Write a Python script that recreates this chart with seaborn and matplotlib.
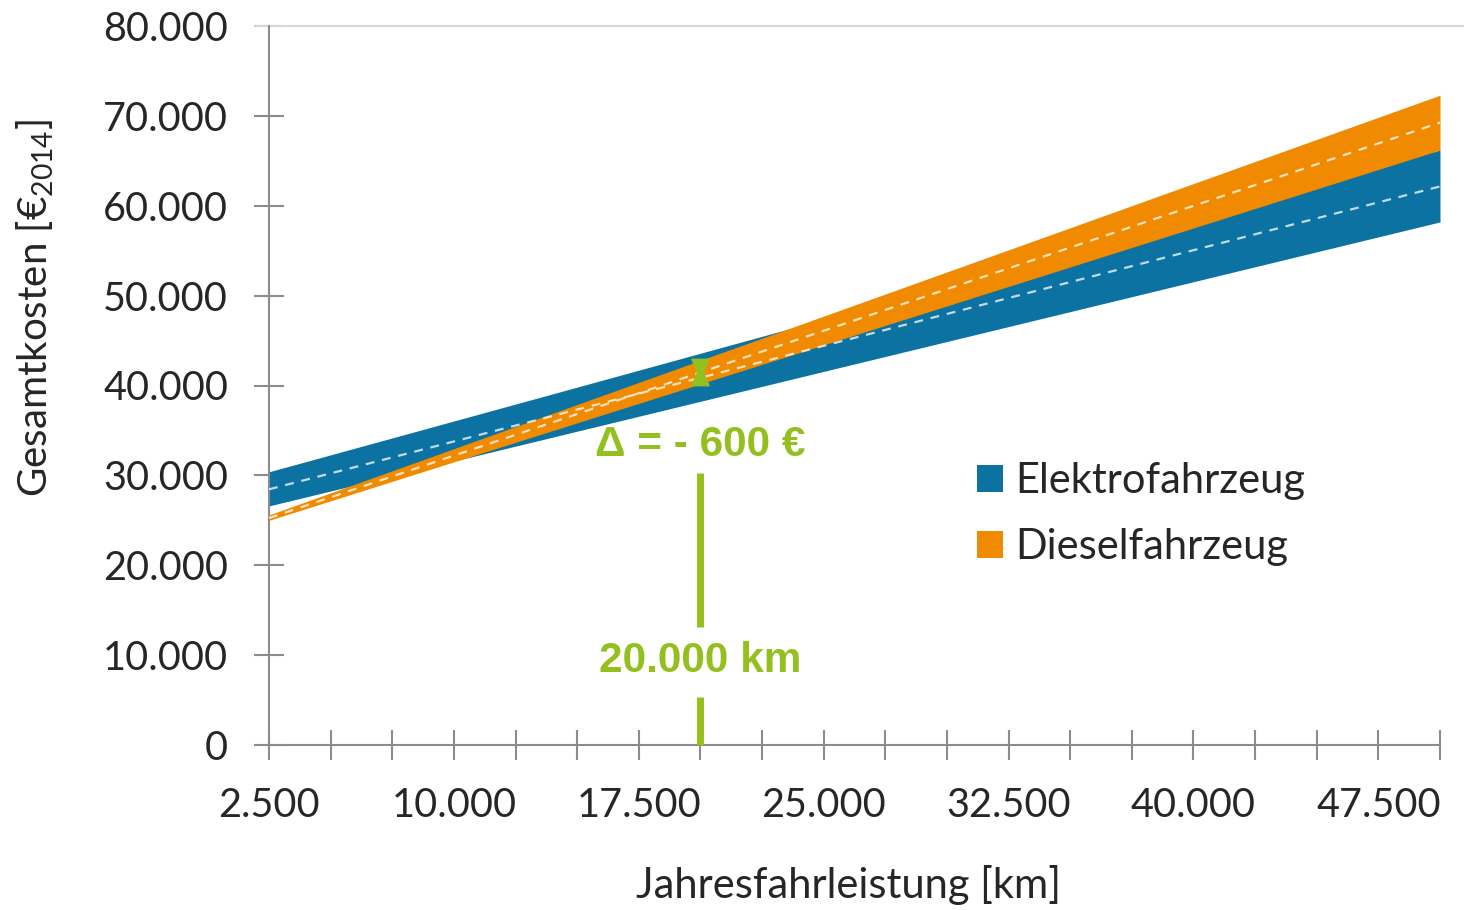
import numpy as np
import pandas as pd
import matplotlib
matplotlib.use("Agg")
import matplotlib.pyplot as plt
import seaborn as sns
from matplotlib.patches import Patch
from matplotlib.path import Path
from matplotlib.ticker import FixedLocator, FuncFormatter

# Annual mileage (km) at the ends of the range
km = [2500, 50000]

# Total cost bands (EUR 2014): lower bound, central estimate, upper bound
elektro_low = [26600, 58200]
elektro_mid = [28450, 62150]
elektro_high = [30400, 66200]

diesel_low = [25000, 66200]
diesel_mid = [25250, 69250]
diesel_high = [25600, 72300]

series_names = ["Elektrofahrzeug", "Dieselfahrzeug"]
x_tick_values = list(range(2500, 50001, 2500))
x_tick_labels = [2500, 10000, 17500, 25000, 32500, 40000, 47500]
y_tick_values = list(range(0, 80001, 10000))
marker_km = 20000
marker_label = "20.000 km"

BLUE = "#0B72A2"
ORANGE = "#F08A00"
GREEN = "#93C01F"
AXIS_GREY = "#8C8C8C"
TEXT = "#262626"

sns.set_theme(style="white")
plt.rcParams["font.family"] = ["Lato", "DejaVu Sans"]
plt.rcParams["mathtext.default"] = "regular"

W, H = 1464, 910
fig = plt.figure(figsize=(W / 100, H / 100), dpi=100)
ax = fig.add_axes([269 / W, 1 - 745 / H, (1440 - 269) / W, (745 - 26) / H])

df = pd.DataFrame({
    "km": km * 2,
    "kosten": elektro_mid + diesel_mid,
    "fahrzeug": [series_names[0]] * 2 + [series_names[1]] * 2,
})

# Cost bands
ax.fill_between(km, elektro_low, elektro_high, color=BLUE, lw=0, zorder=2)
ax.fill_between(km, diesel_low, diesel_high, color=ORANGE, lw=0, zorder=3)

# Central estimates as dashed lines
sns.lineplot(data=df, x="km", y="kosten", units="fahrzeug", estimator=None,
             color="white", alpha=0.75, lw=1.6, dashes=False, ax=ax,
             zorder=4, legend=False)
for line in ax.lines:
    line.set_linestyle((0, (4, 3.5)))
ax.set_xlabel("")
ax.set_ylabel("")

# Difference at the marked mileage
e_at = np.interp(marker_km, km, elektro_mid)
d_at = np.interp(marker_km, km, diesel_mid)
delta = round(e_at - d_at, -2)
delta_label = "Δ = - {:.0f} €".format(abs(delta)) if delta < 0 else "Δ = {:.0f} €".format(delta)

bowtie = Path([(-0.65, 1), (0.65, 1), (0.22, 0), (0.65, -1), (-0.65, -1), (-0.22, 0), (-0.65, 1)],
              [Path.MOVETO, Path.LINETO, Path.LINETO, Path.LINETO, Path.LINETO, Path.LINETO, Path.CLOSEPOLY])
ax.plot([marker_km], [d_at], marker=bowtie, ms=19, color=GREEN, mec=GREEN, zorder=6, ls="none")

ax.plot([marker_km, marker_km], [30300, 13100], color=GREEN, lw=5, solid_capstyle="butt", zorder=5)
ax.plot([marker_km, marker_km], [5300, 0], color=GREEN, lw=5, solid_capstyle="butt", zorder=5, clip_on=False)
green_font = dict(family=["Liberation Sans", "DejaVu Sans"], weight="bold", color=GREEN, fontsize=30.5,
                  ha="center", va="center")
ax.text(marker_km, 33400, delta_label, zorder=7, **green_font)
ax.text(marker_km, 9300, marker_label, zorder=7, **green_font)

# Axes
ax.set_xlim(km[0], km[-1])
ax.set_ylim(0, 80000)
ax.xaxis.set_major_locator(FixedLocator(x_tick_values))
ax.yaxis.set_major_locator(FixedLocator(y_tick_values))
ax.xaxis.set_major_formatter(FuncFormatter(
    lambda v, p: f"{v:,.0f}".replace(",", ".") if int(round(v)) in x_tick_labels else ""))
ax.yaxis.set_major_formatter(FuncFormatter(lambda v, p: f"{v:,.0f}".replace(",", ".")))

for side in ["top", "right"]:
    ax.spines[side].set_visible(False)
for side in ["left", "bottom"]:
    ax.spines[side].set_color(AXIS_GREY)
    ax.spines[side].set_linewidth(1.5)
ax.tick_params(axis="both", which="major", direction="inout", length=21, width=1.5,
               color=AXIS_GREY, labelsize=28.5, labelcolor=TEXT,
               bottom=True, left=True, top=False, right=False)
ax.tick_params(axis="y", pad=19)
ax.tick_params(axis="x", pad=20)
ax.grid(False)

# Top gridline
ax.plot([-0.012, 1.03], [1, 1], transform=ax.transAxes, color="#D9D9D9", lw=1.5,
        clip_on=False, zorder=1)

fig.text(849 / W, 1 - 885 / H, "Jahresfahrleistung [km]", ha="center", va="center",
         fontsize=30, color=TEXT)
fig.text(35 / W, 1 - 308 / H, "Gesamtkosten [€$_{2014}$]", ha="center", va="center",
         rotation=90, fontsize=29, color=TEXT)

handles = [Patch(facecolor=BLUE, edgecolor="none"), Patch(facecolor=ORANGE, edgecolor="none")]
ax.legend(handles, series_names, loc="upper left", bbox_to_anchor=(977 / W, 1 - 462 / H),
          bbox_transform=fig.transFigure, frameon=False, fontsize=30, handlelength=0.62,
          handleheight=0.62, handletextpad=0.3, labelspacing=0.67, borderpad=0, borderaxespad=0,
          labelcolor=TEXT)

fig.savefig("out.png", dpi=100, facecolor="white")
